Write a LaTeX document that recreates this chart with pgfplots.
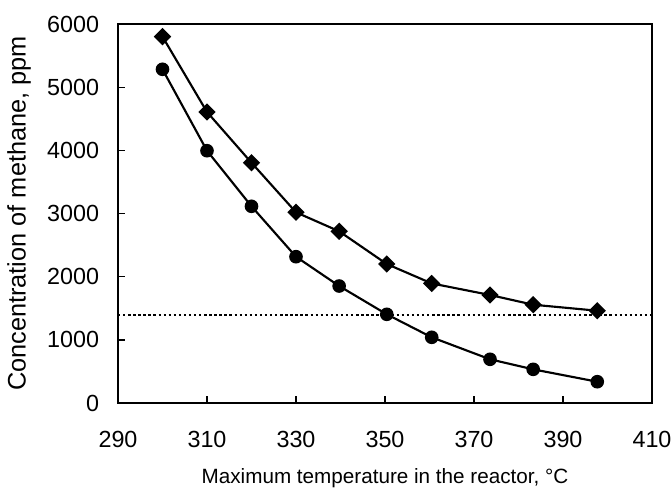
\documentclass[border=0pt]{standalone}
\usepackage{fontspec}
\setmainfont{Liberation Sans}
\usepackage{pgfplots}
\pgfplotsset{compat=1.18}

\begin{document}
\begin{tikzpicture}
\begin{axis}[
  scale only axis,
  width=400.5pt,
  height=284.25pt,
  xmin=290, xmax=410,
  ymin=0, ymax=6000,
  xtick={290,310,...,410},
  ytick={0,1000,...,6000},
  tick align=inside,
  xtick pos=bottom,
  ytick pos=left,
  major tick length=5pt,
  axis line style={line width=1.4pt},
  tick style={line width=1pt, black},
  /pgf/number format/assume math mode=true,
  /pgf/number format/1000 sep={},
  tick label style={font=\fontsize{17.5}{18}\selectfont, inner sep=0pt},
  xticklabel style={anchor=base, yshift=-33pt},
  yticklabel style={anchor=east, xshift=-14pt},
  xlabel={Maximum temperature in the reactor, °C},
  ylabel={Concentration of methane, ppm},
  xlabel style={font=\fontsize{15.5}{17}\selectfont, at={([yshift=-60pt]axis description cs:0.5,0)}, anchor=base, inner sep=0pt},
  ylabel style={font=\fontsize{19}{20}\selectfont, at={([xshift=-74.25pt]axis description cs:0,0.5)}, anchor=center, inner sep=0pt},
]
\addplot[black, line width=1.6pt, mark=square*, mark size=3.8pt, mark options={solid, rotate=45}] coordinates {
  (300,5800) (310,4607) (320,3804) (330,3019) (339.7,2718)
  (350.4,2200) (360.5,1893) (373.6,1710) (383.3,1556) (397.7,1461)
};
\addplot[black, line width=1.6pt, mark=*, mark size=4.3pt] coordinates {
  (300,5283) (310,3994) (320,3114) (330,2316) (339.7,1852)
  (350.4,1404) (360.5,1040) (373.6,692) (383.3,533) (397.7,337)
};
\addplot[black, line width=2pt, dash pattern=on 1.8pt off 2pt] coordinates {(290,1393) (410,1393)};
\end{axis}
\pgfresetboundingbox
\path[use as bounding box] (-88.5pt,-65.25pt) rectangle (415.5pt,302.25pt);
\end{tikzpicture}
\end{document}
